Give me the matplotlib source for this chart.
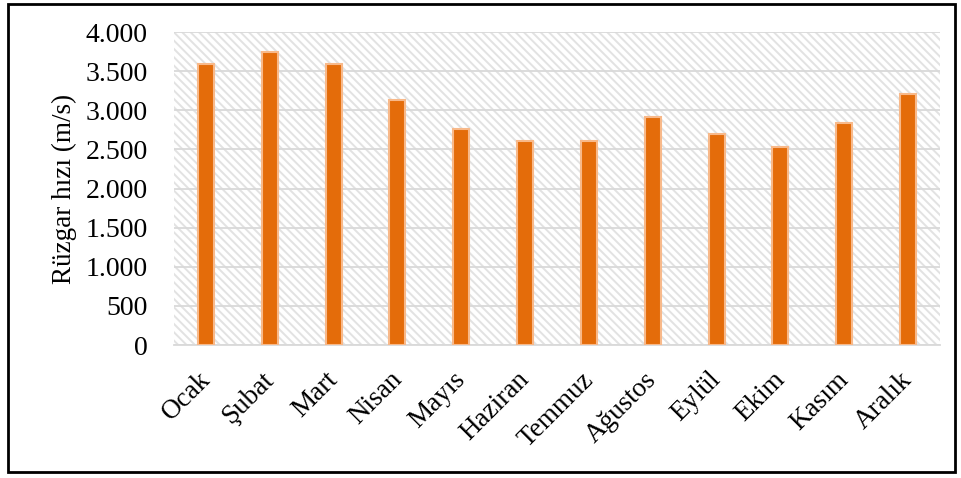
import matplotlib.pyplot as plt
import matplotlib.transforms as mtransforms
from matplotlib.patches import Rectangle
from matplotlib.ticker import FuncFormatter, MultipleLocator

plt.rcParams['font.family'] = ['Liberation Serif', 'DejaVu Serif']
plt.rcParams['hatch.linewidth'] = 1.4

months = ['Ocak', 'Şubat', 'Mart', 'Nisan', 'Mayıs', 'Haziran',
          'Temmuz', 'Ağustos', 'Eylül', 'Ekim', 'Kasım', 'Aralık']
wind_speed = [3590, 3745, 3590, 3130, 2760, 2605,
              2605, 2915, 2695, 2530, 2835, 3210]

fig = plt.figure(figsize=(9.62, 4.78), dpi=100)
ax = fig.add_axes([0.181, 0.278, 0.796, 0.655])

# hatched plot background
ax.add_patch(Rectangle((0, 0), 1, 1, transform=ax.transAxes, facecolor='white',
                       edgecolor='#e2e2e2', hatch='\\\\\\\\', lw=0, zorder=0))

x = range(len(months))
ax.bar(x, wind_speed, width=0.25, color='#E46C0A', edgecolor='#F8B98A',
       linewidth=1.5, zorder=3)

ax.set_xlim(-0.5, len(months) - 0.5)
ax.set_ylim(0, 4000)
ax.yaxis.set_major_locator(MultipleLocator(500))
ax.yaxis.set_major_formatter(FuncFormatter(lambda v, p: f'{int(v):,}'.replace(',', '.')))
ax.grid(axis='y', color='#d9d9d9', linewidth=1.3, zorder=1)
ax.set_axisbelow(True)

for s in ['top', 'right', 'left']:
    ax.spines[s].set_visible(False)
ax.spines['bottom'].set_color('#d9d9d9')
ax.spines['bottom'].set_linewidth(1.3)

ax.set_xticks(list(x))
ax.set_xticklabels(months, rotation=45, ha='right', rotation_mode='anchor', fontsize=19.5)
ax.tick_params(axis='x', length=0, labelsize=19.5, pad=16)
ax.tick_params(axis='y', length=0, labelsize=20, pad=19)
ax.set_ylabel('Rüzgar hızı (m/s)', fontsize=19.5, labelpad=6)

# nudge month labels a little to the left
shift = mtransforms.ScaledTranslation(-6 / 72, 0, fig.dpi_scale_trans)
for lbl in ax.get_xticklabels():
    lbl.set_transform(lbl.get_transform() + shift)

# outer frame
fig.patches.append(Rectangle((0.0083, 0.0126), 0.984, 0.979, transform=fig.transFigure,
                             fill=False, edgecolor='black', linewidth=2))

fig.savefig('out.png', dpi=100)
